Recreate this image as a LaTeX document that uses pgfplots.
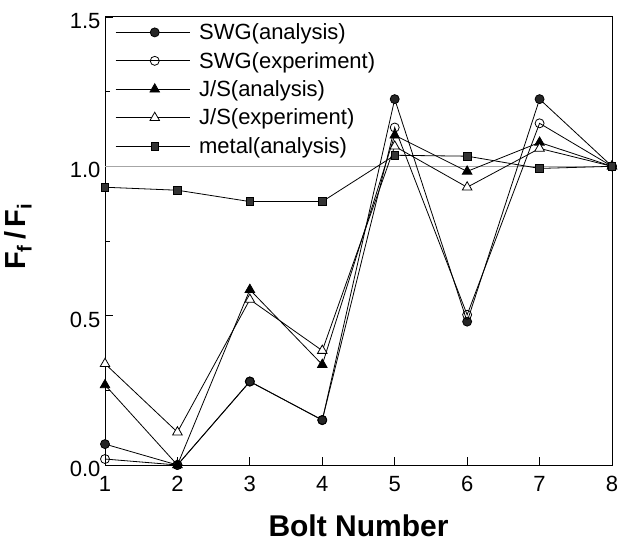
\documentclass[border=0pt]{standalone}
\usepackage{fontspec}
\setmainfont{Liberation Sans}
\usepackage{pgfplots}
\pgfplotsset{compat=1.18}
\newcommand{\tkf}{\fontsize{22}{24}\selectfont}
\newcommand{\lgf}{\fontsize{22}{25}\selectfont}
\begin{document}
\begin{tikzpicture}
\begin{axis}[
  scale only axis,
  width=507pt, height=448pt,
  xmin=1, xmax=8, ymin=0, ymax=1.5,
  xtick={1,2,3,4,5,6,7,8},
  xticklabels={{\tkf 1},{\tkf 2},{\tkf 3},{\tkf 4},{\tkf 5},{\tkf 6},{\tkf 7},{\tkf 8}},
  ytick={0,0.5,1.0,1.5},
  yticklabels={{\tkf 0.0},{\tkf 0.5},{\tkf 1.0},{\tkf 1.5}},
  minor ytick={0.25,0.75,1.25},
  yticklabel style={yshift=-4pt, xshift=-1pt},
  tick align=inside,
  xtick pos=left, ytick pos=left,
  major tick length=8pt, minor tick length=5pt,
  tick style={black, line width=0.8pt},
  axis line style={line width=1pt},
  xticklabel style={yshift=-8pt},
  xlabel={\textbf{Bolt Number}},
  xlabel style={font=\fontsize{30}{34}\selectfont, inner sep=2pt, at={(axis description cs:0.5,-0.16)}, anchor=base},
  ylabel={\textbf{F\textsubscript{f}\,/\,F\textsubscript{i}}},
  ylabel style={font=\fontsize{29}{32}\selectfont, at={(axis description cs:-0.138,0.51)}, anchor=south},
  legend style={draw=none, fill=none, at={(axis description cs:0.02,0.99)}, anchor=north west,
    row sep=7pt, inner sep=0pt,
    /tikz/every odd column/.append style={column sep=7pt}},
  legend cell align=left,
  legend image code/.code={\draw[mark repeat=2,mark phase=2,#1] plot coordinates {(0pt,0pt) (39pt,0pt) (74pt,0pt)};},
  every axis plot/.append style={black, line width=0.8pt, mark size=4.5pt, mark options={solid, line width=0.7pt}},
  clip=false,
]
\addplot[gray!70, line width=0.9pt, forget plot] coordinates {(1,1) (8,1)};
\addplot[mark=*, mark options={fill=black!85}] coordinates {
(1,0.07) (2,0.0) (3,0.28) (4,0.15) (5,1.225) (6,0.48) (7,1.225) (8,1.0)};
\addlegendentry{\lgf SWG(analysis)}
\addplot[mark=o, mark options={fill=white}] coordinates {
(1,0.02) (2,0.0) (3,0.279) (4,0.151) (5,1.13) (6,0.503) (7,1.144) (8,1.0)};
\addlegendentry{\lgf SWG(experiment)}
\addplot[mark=triangle*, mark size=5.5pt, mark options={fill=black}] coordinates {
(1,0.268) (2,0.0) (3,0.587) (4,0.336) (5,1.104) (6,0.983) (7,1.08) (8,1.0)};
\addlegendentry{\lgf J/S(analysis)}
\addplot[mark=triangle*, mark size=5.5pt, mark options={fill=white}] coordinates {
(1,0.339) (2,0.11) (3,0.554) (4,0.383) (5,1.067) (6,0.93) (7,1.06) (8,1.0)};
\addlegendentry{\lgf J/S(experiment)}
\addplot[mark=square*, mark options={fill=black!80}, mark size=3.8pt] coordinates {
(1,0.93) (2,0.92) (3,0.882) (4,0.882) (5,1.037) (6,1.034) (7,0.993) (8,1.0)};
\addlegendentry{\lgf metal(analysis)}
\end{axis}
\pgfresetboundingbox
\path (current axis.south west) ++(-105pt,-78pt) rectangle ([xshift=12pt,yshift=17pt]current axis.north east);
\end{tikzpicture}
\end{document}
